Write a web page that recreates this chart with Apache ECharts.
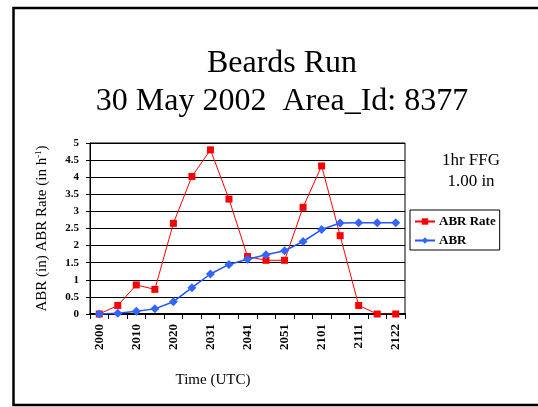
<!DOCTYPE html>
<html>
<head>
<meta charset="utf-8">
<script src="https://cdn.jsdelivr.net/npm/echarts@6/dist/echarts.min.js"></script>
<style>
  html, body { margin: 0; padding: 0; background: #fff; }
  #chart { width: 538px; height: 407px; }
</style>
</head>
<body>
<div id="chart"></div>
<script>
// times (UTC), labels shown on every other one
const times = ['2000', '2005', '2010', '2015', '2020', '2025', '2031', '2036', '2041',
  '2046', '2051', '2056', '2101', '2106', '2111', '2116', '2122']
// ABR Rate (in/h)
const abrRate = [0, 0.25, 0.85, 0.72, 2.65, 4.02, 4.8, 3.36, 1.68, 1.57, 1.57, 3.12, 4.33, 2.29, 0.25, 0, 0]
// ABR (in)
const abr = [0, 0.02, 0.08, 0.15, 0.36, 0.77, 1.17, 1.45, 1.6, 1.73, 1.85, 2.12, 2.47, 2.66, 2.67, 2.67, 2.67]

const serif = 'Liberation Serif'

const chart = echarts.init(document.getElementById('chart'))
chart.setOption({
  animation: false,
  backgroundColor: '#fff',
  title: {
    text: 'Beards Run\n30 May 2002  Area_Id: 8377',
    left: 277,
    top: 40,
    textAlign: 'center',
    textStyle: {
      fontFamily: serif,
      fontSize: 32,
      fontWeight: 'normal',
      color: '#000',
      lineHeight: 38
    }
  },
  grid: {
    left: 90,
    top: 143,
    width: 315,
    height: 171,
    show: true,
    borderColor: '#000',
    borderWidth: 1
  },
  legend: {
    orient: 'vertical',
    left: 410,
    top: 210,
    padding: [5, 4, 3, 4],
    itemGap: 6,
    itemWidth: 20,
    itemHeight: 8,
    borderColor: '#000',
    borderWidth: 1,
    textStyle: { fontFamily: serif, fontSize: 13, fontWeight: 'bold', color: '#000', padding: [0, 0, 0, -1] },
    data: ['ABR Rate', 'ABR']
  },
  xAxis: {
    type: 'category',
    data: times,
    boundaryGap: true,
    axisLine: { lineStyle: { color: '#000', width: 2 } },
    axisTick: { show: true, interval: 0, length: 5, lineStyle: { color: '#000' } },
    axisLabel: {
      interval: 1,
      rotate: 90,
      margin: 10,
      fontFamily: serif,
      fontSize: 13,
      fontWeight: 'bold',
      color: '#000'
    },
    splitLine: { show: false }
  },
  yAxis: {
    type: 'value',
    min: 0,
    max: 5,
    interval: 0.5,
    name: 'ABR (in) ABR Rate (in h{sup|-1})',
    nameLocation: 'middle',
    nameGap: 39,
    nameTextStyle: {
      fontFamily: serif,
      fontSize: 15,
      color: '#000',
      rich: {
        sup: { fontFamily: serif, fontSize: 9, color: '#000', padding: [0, 0, 8, 0] }
      }
    },
    axisLine: { show: true, lineStyle: { color: '#000', width: 1 } },
    axisTick: { show: true, length: 4, lineStyle: { color: '#000' } },
    axisLabel: {
      margin: 11,
      fontFamily: serif,
      fontSize: 11,
      fontWeight: 'bold',
      color: '#000'
    },
    splitLine: { show: true, lineStyle: { color: '#000', width: 1 } }
  },
  series: [
    {
      name: 'ABR Rate',
      type: 'line',
      data: abrRate,
      symbol: 'rect',
      symbolSize: 7,
      itemStyle: { color: '#ff0000' },
      lineStyle: { color: '#ff0000', width: 1 }
    },
    {
      name: 'ABR',
      type: 'line',
      data: abr,
      symbol: 'diamond',
      symbolSize: 9,
      itemStyle: { color: '#3366ff' },
      lineStyle: { color: '#2255ff', width: 1.5 }
    }
  ],
  graphic: [
    {
      type: 'rect',
      shape: { x: 13.5, y: 8, width: 600, height: 397 },
      style: { fill: 'none', stroke: '#000', lineWidth: 2.5 },
      silent: true
    },
    {
      type: 'text',
      x: 471,
      y: 171,
      style: {
        text: '1hr FFG\n1.00 in',
        fontFamily: serif,
        fontSize: 17,
        lineHeight: 21,
        textAlign: 'center',
        textVerticalAlign: 'middle',
        fill: '#000'
      }
    },
    {
      type: 'text',
      x: 213,
      y: 380,
      style: {
        text: 'Time (UTC)',
        fontFamily: serif,
        fontSize: 15,
        textAlign: 'center',
        textVerticalAlign: 'middle',
        fill: '#000'
      }
    }
  ]
})
</script>
</body>
</html>
